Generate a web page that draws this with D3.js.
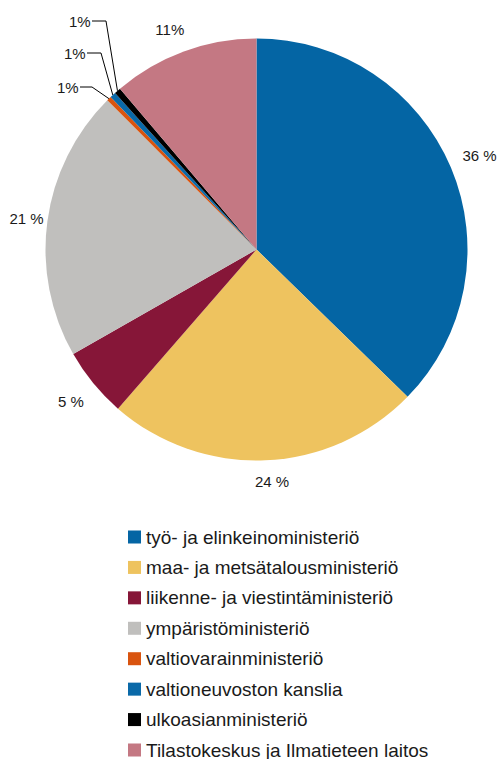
<!DOCTYPE html>
<html>
<head>
<meta charset="utf-8">
<script src="https://cdn.jsdelivr.net/npm/d3@7"></script>
<style>
  body { margin: 0; background: #fff; }
  text { font-family: "Liberation Sans", Arial, sans-serif; }
</style>
</head>
<body>
<div id="chart"></div>
<script>
'use strict';

// categories (legend order = slice order, clockwise from top)
const categories = [
    'työ- ja elinkeinoministeriö',
    'maa- ja metsätalousministeriö',
    'liikenne- ja viestintäministeriö',
    'ympäristöministeriö',
    'valtiovarainministeriö',
    'valtioneuvoston kanslia',
    'ulkoasianministeriö',
    'Tilastokeskus ja Ilmatieteen laitos'
];

// shares in percent
const shares = [37.3, 24.1, 5.35, 20.75, 0.35, 0.45, 0.5, 11.2];

// label texts as printed on the chart
const labelTexts = ['36 %', '24 %', '5 %', '21 %', '1%', '1%', '1%', '11%'];

const colors = ['#0465a4', '#eec35f', '#861638', '#c0bfbd', '#d9540f', '#0a69a8', '#000000', '#c47883'];

let width = 500, height = 759;
let cx = 256.5, cy = 249.5, radius = 211;

let svg = d3.select('#chart').append('svg')
    .attr('width', width)
    .attr('height', height);

let data = categories.map(function (c, i) {
    return {name: c, value: shares[i], label: labelTexts[i], color: colors[i]};
});

let pie = d3.pie().sort(null).value(function (d) { return d.value; });
let arc = d3.arc().innerRadius(0).outerRadius(radius);

let g = svg.append('g').attr('transform', 'translate(' + cx + ',' + cy + ')');
let arcs = pie(data);

g.selectAll('path.slice').data(arcs).enter()
    .append('path')
    .attr('class', 'slice')
    .attr('d', arc)
    .attr('fill', function (d) { return d.data.color; });

function mid(d) { return (d.startAngle + d.endAngle) / 2; }
function polar(a, r) { return [Math.sin(a) * r, -Math.cos(a) * r]; }

// big slices: label just outside (radius + small nudge per label)
let bigLabelPos = {0: [242, 0, 0], 1: [232, 6, 0], 2: [240, 0, 0], 3: [232, 0, 0], 7: [237, -5, 2]};
arcs.forEach(function (d, i) {
    let pos = bigLabelPos[i];
    if (pos === undefined) return;
    let p = polar(mid(d), pos[0]);
    g.append('text')
        .attr('x', p[0] + pos[1])
        .attr('y', p[1] + pos[2])
        .attr('text-anchor', 'middle')
        .attr('dominant-baseline', 'central')
        .style('font-size', '15px')
        .style('fill', '#1a1a1a')
        .text(d.data.label);
});

// small slices: leader lines to labels stacked upper-left
let smallLabels = [
    {idx: 4, tx: 57, ty: 87, elbowX: 92},
    {idx: 5, tx: 64, ty: 53, elbowX: 101},
    {idx: 6, tx: 69, ty: 21, elbowX: 106}
];
smallLabels.forEach(function (s) {
    let d = arcs[s.idx];
    let p = polar(mid(d), radius);
    let ex = p[0] + cx, ey = p[1] + cy;
    svg.append('polyline')
        .attr('points', [[s.tx + 23, s.ty], [s.elbowX, s.ty], [ex, ey]].map(function (q) { return q.join(','); }).join(' '))
        .attr('fill', 'none')
        .attr('stroke', '#000')
        .attr('stroke-width', 1);
    svg.append('text')
        .attr('x', s.tx)
        .attr('y', s.ty)
        .attr('dominant-baseline', 'central')
        .style('font-size', '15px')
        .style('fill', '#1a1a1a')
        .text(d.data.label);
});

// legend
let legendY = d3.scalePoint().domain(categories).range([537, 750]);
let legend = svg.append('g');
let rows = legend.selectAll('g.row').data(data).enter()
    .append('g')
    .attr('class', 'row')
    .attr('transform', function (d) { return 'translate(128,' + legendY(d.name) + ')'; });

rows.append('rect')
    .attr('x', 0)
    .attr('y', -6.5)
    .attr('width', 13)
    .attr('height', 13)
    .attr('fill', function (d) { return d.color; });

rows.append('text')
    .attr('x', 18)
    .attr('y', 0)
    .attr('dominant-baseline', 'central')
    .style('font-size', '19px')
    .style('fill', '#1a1a1a')
    .text(function (d) { return d.name; });
</script>
</body>
</html>
